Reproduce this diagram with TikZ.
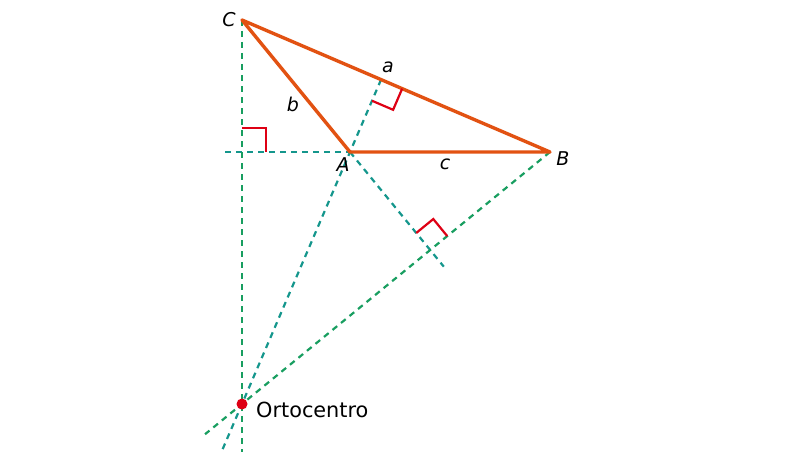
\documentclass[tikz,border=0pt]{standalone}
\usepackage{fontspec}
\setmainfont{DejaVu Sans}
\usetikzlibrary{calc}
\definecolor{triorange}{RGB}{226,82,18}
\definecolor{altgreen}{RGB}{24,158,96}
\definecolor{altteal}{RGB}{20,150,140}
\definecolor{markred}{RGB}{222,0,20}
\begin{document}
\begin{tikzpicture}[x=1pt,y=-1pt,
  tri/.style={draw=triorange,line width=3.4pt,line cap=round,line join=round},
  altline/.style={draw=altgreen,line width=2.2pt,dash pattern=on 6pt off 5pt},
  extline/.style={draw=altteal,line width=2.2pt,dash pattern=on 6pt off 5pt},
  rmark/.style={draw=markred,line width=2.2pt},
  lbl/.style={font=\fontsize{19}{22}\selectfont\itshape, inner sep=0pt},
  txt/.style={font=\fontsize{20.8}{24}\selectfont, inner sep=0pt}]
\useasboundingbox (0,0) rectangle (800,460);
% vertices
\coordinate (C) at (242,20);
\coordinate (A) at (350,152);
\coordinate (B) at (550,152);
\coordinate (H) at (242,404);
% feet of the altitudes
\coordinate (F) at ($(A)!(C)!(B)$);
\coordinate (D) at ($(B)!(A)!(C)$);
\coordinate (E) at ($(C)!(B)!(A)$);
% free ends
\coordinate (vEnd) at (242,452);
\coordinate (hStart) at (225,152);
\coordinate (aEnd) at ($(D)!1.145!(H)$);
\coordinate (bEnd) at ($(B)!1.12!(H)$);
\coordinate (caEnd) at ($(A)!1.17!(E)$);
% dashed lines
\draw[extline] (hStart) -- (A);
\draw[extline] (A) -- (caEnd);
\draw[extline] (D) -- (aEnd);
\draw[altline] (C) -- (vEnd);
\draw[altline] (B) -- (bEnd);
% triangle
\draw[tri] (A) -- (B) -- (C) -- cycle;
% right-angle marks
\draw[rmark] ($(F)+(0,-24)$) -- ($(F)+(24,-24)$) -- ($(F)+(24,0)$);
\coordinate (D1) at ($(D)!23pt!(A)$);
\coordinate (D2) at ($(D)!23pt!(B)$);
\draw[rmark] (D1) -- ($(D1)+(D2)-(D)$) -- (D2);
\coordinate (E1) at ($(E)!22pt!(A)$);
\coordinate (E2) at ($(E)!22pt!(B)$);
\draw[rmark] (E1) -- ($(E1)+(E2)-(E)$) -- (E2);
% orthocentre
\fill[markred] (H) circle (5.5pt);
\node[txt, anchor=west] (ortho) at (256,410) {Ortocentro};
% labels
\node[lbl] (lC) at (229,20) {C};
\node[lbl] (lA) at (343,165) {A};
\node[lbl] (lB) at (563,159) {B};
\node[lbl] (la) at (388,67) {a};
\node[lbl] (lb) at (293,104) {b};
\node[lbl] (lc) at (445,164) {c};
\end{tikzpicture}
\end{document}
